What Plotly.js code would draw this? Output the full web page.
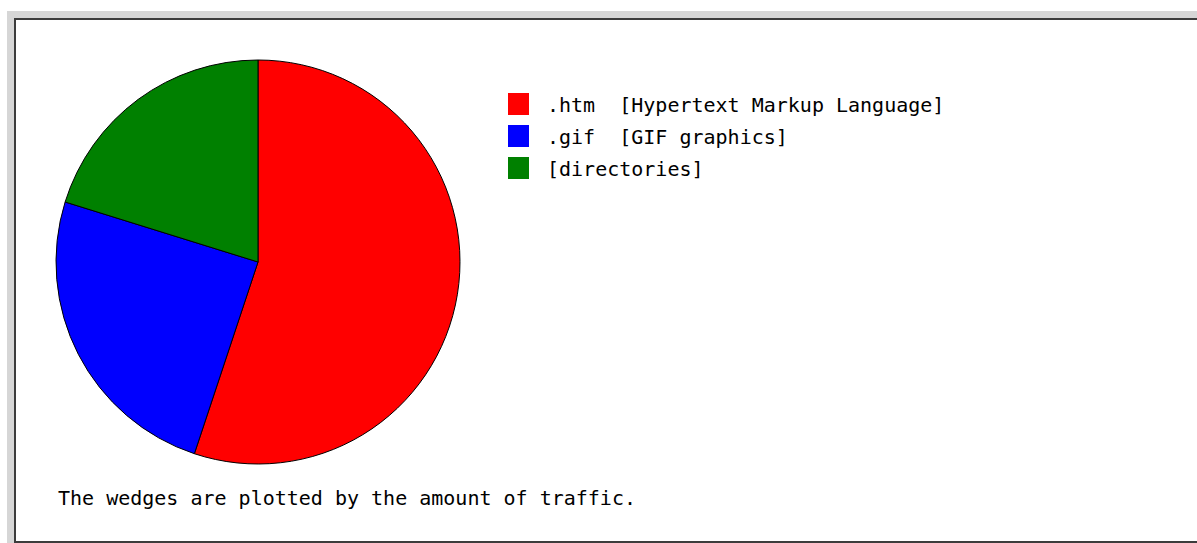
<!DOCTYPE html>
<html>
<head>
<meta charset="utf-8">
<script src="https://cdn.plot.ly/plotly-3.0.1.min.js"></script>
<style>
html,body{margin:0;padding:0;background:#fff;}
#chart{width:1197px;height:543px;}
</style>
</head>
<body>
<div id="chart"></div>
<script>
// Data
const categories = [".htm  [Hypertext Markup Language]", ".gif  [GIF graphics]", "[directories]"];
const traffic = [55.1, 24.7, 20.2];
const sliceColors = ["#ff0000", "#0000ff", "#008000"];
const caption = "The wedges are plotted by the amount of traffic.";

const W = 1197, H = 543;
const px = x => x / W;
const py = y => 1 - y / H;
const FONT = "DejaVu Sans Mono, Liberation Mono, monospace";

const shapes = [
  // grey window frame
  {type:'rect', xref:'paper', yref:'paper', x0:px(7), x1:px(W), y0:py(H), y1:py(11),
   fillcolor:'#d6d6d6', line:{width:0}, layer:'below'},
  {type:'rect', xref:'paper', yref:'paper', x0:px(14), x1:px(W), y0:py(H), y1:py(18),
   fillcolor:'#3c3c3c', line:{width:0}, layer:'below'},
  {type:'rect', xref:'paper', yref:'paper', x0:px(16), x1:px(W), y0:py(541), y1:py(20),
   fillcolor:'#ffffff', line:{width:0}, layer:'below'}
];
const annotations = [];

// custom legend built from the data arrays
categories.forEach((c, i) => {
  const yc = 104 + i * 32;
  shapes.push({type:'rect', xref:'paper', yref:'paper',
    x0:px(508), x1:px(529), y0:py(yc + 11), y1:py(yc - 11),
    fillcolor:sliceColors[i], line:{width:0}});
  annotations.push({xref:'paper', yref:'paper', x:px(545), y:py(yc + 1),
    xanchor:'left', yanchor:'middle', showarrow:false, text:c,
    font:{family:FONT, size:20, color:'#000'}});
});

annotations.push({xref:'paper', yref:'paper', x:px(56), y:py(498),
  xanchor:'left', yanchor:'middle', showarrow:false, text:caption,
  font:{family:FONT, size:20, color:'#000'}});

const data = [{
  type:'pie',
  labels:categories,
  values:traffic,
  sort:false,
  direction:'clockwise',
  rotation:0,
  textinfo:'none',
  hoverinfo:'label+percent',
  marker:{colors:sliceColors, line:{color:'#000', width:1}},
  domain:{x:[px(56), px(460)], y:[py(464), py(60)]},
  showlegend:false
}];

const layout = {
  width:W, height:H,
  margin:{l:0, r:0, t:0, b:0},
  paper_bgcolor:'#ffffff',
  showlegend:false,
  shapes:shapes,
  annotations:annotations
};

Plotly.newPlot('chart', data, layout, {staticPlot:true, displayModeBar:false});
</script>
</body>
</html>
